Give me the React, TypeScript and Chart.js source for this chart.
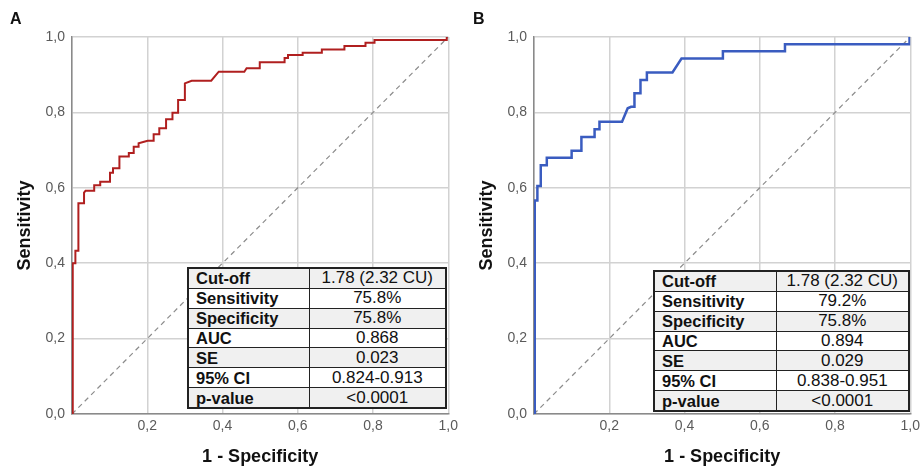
import React, { useEffect, useRef } from 'react';
import { Chart, registerables } from 'chart.js';

Chart.register(...registerables);

// ROC curve A (1 - specificity, sensitivity)
const fprA = [0.002, 0.002, 0.009, 0.009, 0.017, 0.017, 0.032, 0.032, 0.036, 0.059, 0.059, 0.075, 0.075, 0.101, 0.101, 0.109, 0.109, 0.126, 0.126, 0.151, 0.151, 0.164, 0.164, 0.177, 0.177, 0.201, 0.217, 0.217, 0.232, 0.232, 0.25, 0.25, 0.267, 0.267, 0.282, 0.282, 0.3, 0.3, 0.318, 0.37, 0.39, 0.458, 0.464, 0.499, 0.499, 0.565, 0.565, 0.574, 0.574, 0.613, 0.613, 0.664, 0.664, 0.724, 0.724, 0.78, 0.78, 0.804, 0.804, 0.996, 0.996];
const tprA = [0, 0.40, 0.40, 0.433, 0.433, 0.559, 0.559, 0.587, 0.592, 0.592, 0.607, 0.607, 0.616, 0.616, 0.64, 0.64, 0.652, 0.652, 0.683, 0.683, 0.692, 0.692, 0.709, 0.709, 0.718, 0.725, 0.725, 0.742, 0.742, 0.758, 0.758, 0.782, 0.782, 0.799, 0.799, 0.833, 0.833, 0.877, 0.884, 0.884, 0.908, 0.908, 0.917, 0.917, 0.933, 0.933, 0.944, 0.944, 0.952, 0.952, 0.958, 0.958, 0.967, 0.967, 0.976, 0.976, 0.985, 0.985, 0.992, 0.992, 1.0];

// ROC curve B
const fprB = [0.002, 0.002, 0.009, 0.009, 0.018, 0.018, 0.034, 0.034, 0.10, 0.10, 0.126, 0.126, 0.161, 0.161, 0.174, 0.174, 0.234, 0.249, 0.258, 0.267, 0.267, 0.283, 0.283, 0.30, 0.30, 0.368, 0.392, 0.502, 0.502, 0.667, 0.667, 0.998, 0.998];
const tprB = [0, 0.566, 0.566, 0.605, 0.605, 0.66, 0.66, 0.68, 0.68, 0.698, 0.698, 0.735, 0.735, 0.755, 0.755, 0.775, 0.775, 0.811, 0.815, 0.815, 0.851, 0.851, 0.886, 0.886, 0.906, 0.906, 0.943, 0.943, 0.962, 0.962, 0.981, 0.981, 1.0];

// reference diagonal
const diagX = [0, 1];
const diagY = [0, 1];

const statLabels = ['Cut-off', 'Sensitivity', 'Specificity', 'AUC', 'SE', '95% CI', 'p-value'];
const statsA = ['1.78 (2.32 CU)', '75.8%', '75.8%', '0.868', '0.023', '0.824-0.913', '<0.0001'];
const statsB = ['1.78 (2.32 CU)', '79.2%', '75.8%', '0.894', '0.029', '0.838-0.951', '<0.0001'];

const xTitle = '1 - Specificity';
const yTitle = 'Sensitivity';

const FONT = "'Liberation Sans', Arial, sans-serif";

const fmt = (v: number) => v.toFixed(1).replace('.', ',');

function RocChart({ fpr, tpr, color, lineWidth, padRight }: { fpr: number[]; tpr: number[]; color: string; lineWidth: number; padRight: number }) {
  const ref = useRef<HTMLCanvasElement | null>(null);
  useEffect(() => {
    if (!ref.current) return;
    const chart = new Chart(ref.current, {
      type: 'line',
      data: {
        datasets: [
          {
            data: diagX.map((x, i) => ({ x, y: diagY[i] })),
            borderColor: '#8c8c8c',
            borderWidth: 1.2,
            borderDash: [5, 4],
            pointRadius: 0,
            tension: 0,
            order: 2,
          },
          {
            data: fpr.map((x, i) => ({ x, y: tpr[i] })),
            borderColor: color,
            borderWidth: lineWidth,
            pointRadius: 0,
            tension: 0,
            order: 1,
          },
        ],
      },
      options: {
        responsive: false,
        animation: false,
        events: [],
        layout: { padding: { top: 37, right: padRight, left: 0, bottom: 0 } },
        plugins: { legend: { display: false }, tooltip: { enabled: false } },
        scales: {
          x: {
            type: 'linear',
            min: 0,
            max: 1,
            afterFit: (s: any) => { s.height = 54; },
            grid: { color: '#d2d2d2', lineWidth: 1.5, drawTicks: false },
            border: { display: true, color: '#8a8a8a', width: 1.5 },
            ticks: {
              stepSize: 0.2,
              padding: 4,
              color: '#5a5a5a',
              font: { family: FONT, size: 14 },
              callback: (v: any) => (v === 0 ? '' : fmt(Number(v))),
            },
            title: {
              display: true,
              text: xTitle,
              color: '#111',
              font: { family: FONT, size: 18, weight: 'bold' },
              padding: { top: 0, bottom: 0 },
            },
          },
          y: {
            type: 'linear',
            min: 0,
            max: 1,
            afterFit: (s: any) => { s.width = 72; },
            grid: { color: '#d2d2d2', lineWidth: 1.5, drawTicks: false },
            border: { display: true, color: '#8a8a8a', width: 1.5 },
            ticks: {
              stepSize: 0.2,
              padding: 7,
              color: '#5a5a5a',
              font: { family: FONT, size: 14 },
              callback: (v: any) => fmt(Number(v)),
            },
            title: {
              display: true,
              text: yTitle,
              color: '#111',
              font: { family: FONT, size: 18, weight: 'bold' },
              padding: { top: 14, bottom: 0 },
            },
          },
        },
      } as any,
    });
    return () => chart.destroy();
  }, [fpr, tpr, color, lineWidth, padRight]);
  return <canvas ref={ref} width={462} height={468} style={{ display: 'block' }} />;
}

function StatsTable({ values, left, top, width, col1 }: { values: string[]; left: number; top: number; width: number; col1: number }) {
  return (
    <table
      style={{
        position: 'absolute',
        left,
        top,
        width,
        height: 142,
        borderCollapse: 'collapse',
        tableLayout: 'fixed',
        border: '2px solid #222',
        fontFamily: FONT,
        color: '#111',
      }}
    >
      <colgroup>
        <col style={{ width: col1 }} />
        <col />
      </colgroup>
      <tbody>
        {statLabels.map((lab, i) => (
          <tr key={lab} style={{ background: i % 2 === 0 ? '#f0f0f0' : '#ffffff' }}>
            <td style={{ border: '1px solid #222', padding: '0 0 0 7px', fontWeight: 'bold', fontSize: 16.5, lineHeight: '18px', whiteSpace: 'nowrap' }}>{lab}</td>
            <td style={{ border: '1px solid #222', padding: 0, textAlign: 'center', fontSize: 17, lineHeight: '18px', whiteSpace: 'nowrap' }}>{values[i]}</td>
          </tr>
        ))}
      </tbody>
    </table>
  );
}

export default function App() {
  return (
    <div style={{ position: 'absolute', left: 0, top: 0, width: 924, height: 468, background: '#fff', overflow: 'hidden' }}>
      <div style={{ position: 'absolute', left: 0, top: 0 }}>
        <RocChart fpr={fprA} tpr={tprA} color="#b01f1f" lineWidth={2} padRight={12.5} />
      </div>
      <div style={{ position: 'absolute', left: 462, top: 0 }}>
        <RocChart fpr={fprB} tpr={tprB} color="#3a5cc0" lineWidth={2.5} padRight={11.5} />
      </div>
      <StatsTable values={statsA} left={187} top={267} width={260} col1={121} />
      <StatsTable values={statsB} left={653} top={270} width={257} col1={122} />
      <div style={{ position: 'absolute', left: 10, top: 11, fontFamily: FONT, fontWeight: 'bold', fontSize: 16, lineHeight: '16px', color: '#111' }}>A</div>
      <div style={{ position: 'absolute', left: 473, top: 11, fontFamily: FONT, fontWeight: 'bold', fontSize: 16, lineHeight: '16px', color: '#111' }}>B</div>
    </div>
  );
}
